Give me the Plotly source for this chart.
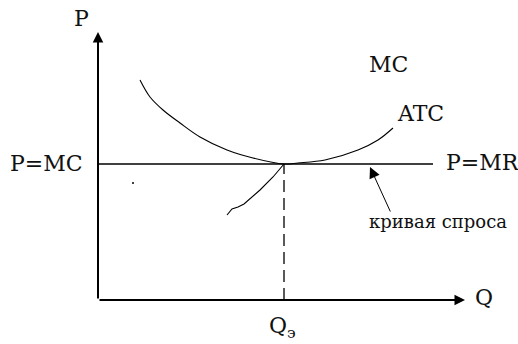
import plotly.graph_objects as go

# ---- data (Q, P in chart units; origin at the axes corner) ----
atc_q = [42, 52, 65, 82, 102, 129, 155, 186, 200, 227, 260, 280, 295]
atc_p = [220, 203, 190, 177, 163, 150, 142, 136, 137, 140, 150, 160, 172]

mc_q = [129, 134, 140, 146, 162, 175, 186]
mc_p = [85, 91, 93, 96, 110, 123, 136]

price_level = 136          # P = MC = MR
price_line_q = [0, 335]
q_equilibrium = 186
q_axis_max = 367
p_axis_max = 268

demand_arrow_tail = (293, 87)
demand_arrow_tip = (272, 133)

stray_dot = (35, 117)

labels = {
    "P": (-17, 282),
    "Q": (386, 3),
    "P=MC": (-13, 137),
    "P=MR": (346, 138),
    "MC": (290, 236),
    "ATC": (322, 187),
    "кривая спроса": (340, 79),
    "Q<sub>э</sub>": (169, -27),
}

FONT = "DejaVu Serif"
fig = go.Figure()

# horizontal P=MC=MR line
fig.add_trace(go.Scatter(x=price_line_q, y=[price_level, price_level], mode="lines",
                         line=dict(color="black", width=1.6), hoverinfo="skip"))
# dashed vertical at Q_e
fig.add_trace(go.Scatter(x=[q_equilibrium, q_equilibrium], y=[0, price_level], mode="lines",
                         line=dict(color="black", width=1.3, dash="12px,6px"), hoverinfo="skip"))
# ATC curve
fig.add_trace(go.Scatter(x=atc_q, y=atc_p, mode="lines", line=dict(color="black", width=1.1, shape="spline"),
                         hoverinfo="skip"))
# MC curve
fig.add_trace(go.Scatter(x=mc_q, y=mc_p, mode="lines", line=dict(color="black", width=1.1), hoverinfo="skip"))
# stray dot
fig.add_trace(go.Scatter(x=[stray_dot[0]], y=[stray_dot[1]], mode="markers",
                         marker=dict(color="black", size=2), hoverinfo="skip"))

# axes with arrows
fig.add_annotation(x=0, y=p_axis_max, ax=0, ay=0, xref="x", yref="y", axref="x", ayref="y",
                   showarrow=True, arrowhead=2, arrowsize=1.05, arrowwidth=2, arrowcolor="black", text="")
fig.add_annotation(x=q_axis_max, y=0, ax=0, ay=0, xref="x", yref="y", axref="x", ayref="y",
                   showarrow=True, arrowhead=2, arrowsize=1.05, arrowwidth=2, arrowcolor="black", text="")
# demand arrow
fig.add_annotation(x=demand_arrow_tip[0], y=demand_arrow_tip[1], ax=demand_arrow_tail[0], ay=demand_arrow_tail[1],
                   xref="x", yref="y", axref="x", ayref="y",
                   showarrow=True, arrowhead=2, arrowsize=2.2, arrowwidth=1, arrowcolor="black", text="")

anchors = {
    "P=MC": "right",
    "P=MR": "left",
    "Q<sub>э</sub>": "left",
}
sizes = {"кривая спроса": 18}
for txt, (qx, py) in labels.items():
    fig.add_annotation(x=qx, y=py, xref="x", yref="y", text=txt, showarrow=False,
                       xanchor=anchors.get(txt, "center"), yanchor="middle",
                       font=dict(family=FONT, size=sizes.get(txt, 22), color="#111"))

fig.update_layout(
    width=518, height=344,
    margin=dict(l=0, r=0, t=0, b=0),
    paper_bgcolor="white", plot_bgcolor="white",
    showlegend=False,
    xaxis=dict(range=[-98, 420], visible=False, fixedrange=True),
    yaxis=dict(range=[-44, 300], visible=False, fixedrange=True),
)
fig.write_html("out.html", config={"displayModeBar": False},
               post_script="document.body.style.margin='0';document.body.style.padding='0';")
